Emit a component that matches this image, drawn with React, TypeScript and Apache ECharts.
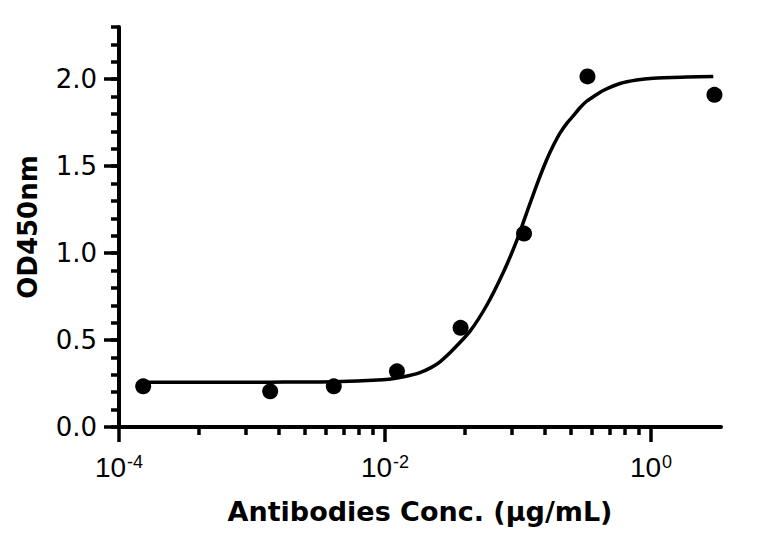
import React, { useEffect, useRef } from 'react';
import * as echarts from 'echarts';

// Measured points (µg/mL, OD450nm)
const concentrations = [0.000152, 0.00137, 0.00412, 0.0123, 0.037, 0.111, 0.333, 3.0];
const odValues = [0.234, 0.205, 0.234, 0.32, 0.57, 1.112, 2.016, 1.91];

// Fitted curve
const fitConc = [
  0.000151, 0.000406, 0.00136, 0.00406, 0.00966, 0.0123, 0.015, 0.0183, 0.022, 0.0259,
  0.0327, 0.0436, 0.0582, 0.0776, 0.0977, 0.116, 0.138, 0.164, 0.185, 0.207,
  0.235, 0.261, 0.29, 0.328, 0.38, 0.438, 0.585, 0.78, 1.04, 1.85, 2.94,
];
const fitOD = [
  0.257, 0.257, 0.258, 0.26, 0.272, 0.282, 0.295, 0.313, 0.34, 0.375,
  0.447, 0.551, 0.7, 0.89, 1.07, 1.23, 1.39, 1.535, 1.621, 1.69,
  1.75, 1.79, 1.833, 1.873, 1.906, 1.935, 1.975, 1.995, 2.005, 2.012, 2.016,
];

const xMajorTicks = [0.0001, 0.01, 1];
const xMinorTicks = [
  0.0004, 0.0009, 0.0016, 0.0025, 0.0036, 0.0049, 0.0064, 0.0081,
  0.04, 0.09, 0.16, 0.25, 0.36, 0.49, 0.64, 0.81,
];
const yMajorTicks = [0, 0.5, 1, 1.5, 2];

const X_MIN = 0.0001;
const X_MAX = 3.36;
const Y_MIN = 0;
const Y_MAX = 2.3;

export default function App() {
  const ref = useRef<HTMLDivElement>(null);

  useEffect(() => {
    if (!ref.current) return;
    const chart = echarts.init(ref.current, undefined, { renderer: 'svg' });
    const black = '#000';
    const axisLineStyle = { color: black, width: 4 };

    chart.setOption({
      animation: false,
      backgroundColor: '#fff',
      grid: { left: 119, right: 39, top: 27, bottom: 119, containLabel: false, outerBoundsMode: 'none' },
      xAxis: [
        {
          type: 'log',
          logBase: 10,
          min: X_MIN,
          max: X_MAX,
          position: 'bottom',
          axisLine: { show: true, lineStyle: axisLineStyle },
          axisTick: { show: true, customValues: xMajorTicks, length: 15, lineStyle: { color: black, width: 3.5 } },
          minorTick: { show: false },
          splitLine: { show: false },
          axisLabel: {
            customValues: xMajorTicks,
            margin: 25,
            color: black,
            formatter: (v: number) => `{b|10}{s|${Math.round(Math.log10(v))}}`,
            rich: {
              b: { fontFamily: 'Liberation Sans', fontSize: 28, lineHeight: 30, color: black },
              s: { fontFamily: 'Liberation Sans', fontSize: 18, lineHeight: 18, verticalAlign: 'top', padding: [1, 0, 0, 1], color: black },
            },
          },
          name: 'Antibodies Conc. (µg/mL)',
          nameLocation: 'middle',
          nameGap: 71,
          nameTextStyle: { fontFamily: 'DejaVu Sans', fontWeight: 'bold', fontSize: 27, color: black },
        },
        {
          type: 'log',
          logBase: 10,
          min: X_MIN,
          max: X_MAX,
          position: 'bottom',
          axisLine: { show: false },
          axisTick: { show: true, customValues: xMinorTicks, length: 8, lineStyle: { color: black, width: 3.5 } },
          axisLabel: { show: false },
          splitLine: { show: false },
        },
      ],
      yAxis: [
        {
          type: 'value',
          min: Y_MIN,
          max: Y_MAX,
          position: 'left',
          axisLine: { show: true, lineStyle: axisLineStyle },
          axisTick: { show: true, customValues: yMajorTicks, length: 15, lineStyle: { color: black, width: 3.5 } },
          splitLine: { show: false },
          axisLabel: {
            customValues: yMajorTicks,
            margin: 22,
            color: black,
            fontFamily: 'DejaVu Sans',
            fontSize: 26,
            formatter: (v: number) => v.toFixed(1),
          },
          name: 'OD450nm',
          nameLocation: 'middle',
          nameGap: 78,
          nameTextStyle: { fontFamily: 'DejaVu Sans', fontWeight: 'bold', fontSize: 26, color: black },
        },
        {
          type: 'value',
          min: Y_MIN,
          max: Y_MAX,
          interval: 0.1,
          position: 'left',
          axisLine: { show: false },
          axisTick: { show: true, length: 8, lineStyle: { color: black, width: 3.5 } },
          axisLabel: { show: false },
          splitLine: { show: false },
        },
      ],
      series: [
        {
          type: 'line',
          xAxisIndex: 0,
          yAxisIndex: 0,
          data: fitConc.map((c, i) => [c, fitOD[i]]),
          showSymbol: false,
          smooth: 0.25,
          lineStyle: { color: black, width: 3.5 },
          z: 2,
        },
        {
          type: 'scatter',
          xAxisIndex: 0,
          yAxisIndex: 0,
          data: concentrations.map((c, i) => [c, odValues[i]]),
          symbol: 'circle',
          symbolSize: 16,
          itemStyle: { color: black, opacity: 1 },
          z: 3,
        },
      ],
    });

    return () => chart.dispose();
  }, []);

  return (
    <div
      ref={ref}
      style={{ position: 'absolute', left: 0, top: 0, width: 760, height: 546, background: '#fff' }}
    />
  );
}
